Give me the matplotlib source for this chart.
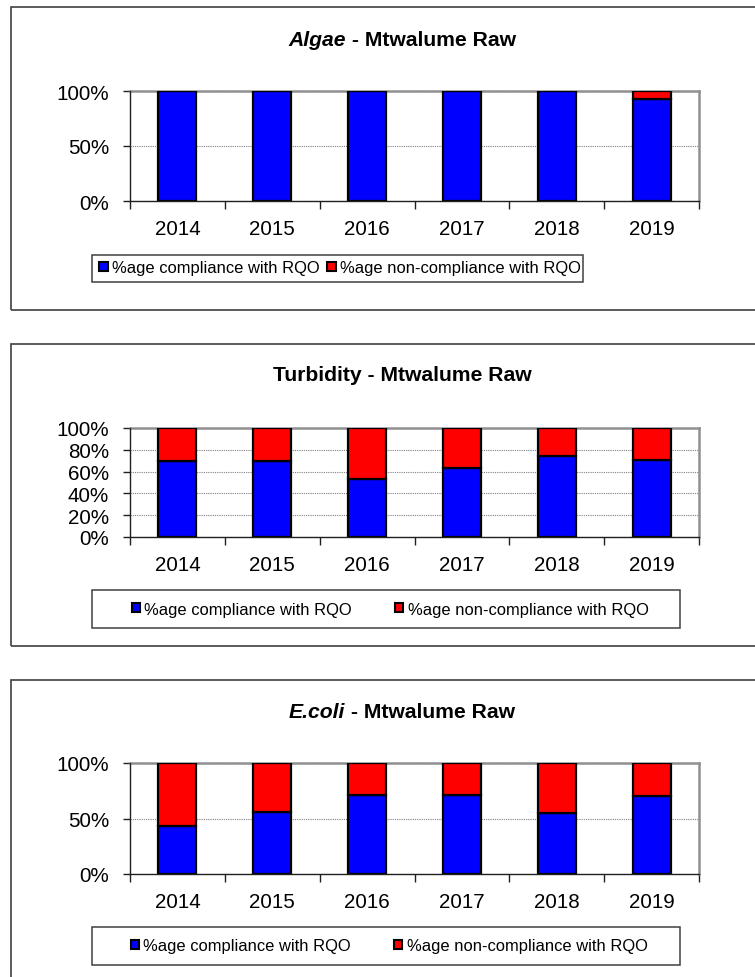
import matplotlib
matplotlib.use("Agg")
import matplotlib.pyplot as plt
import matplotlib.patches as mpatches
from matplotlib.ticker import FixedLocator, FuncFormatter

plt.rcParams["font.family"] = ["Liberation Sans", "DejaVu Sans"]

years = ["2014", "2015", "2016", "2017", "2018", "2019"]

algae_comp = [100, 100, 100, 100, 100, 93]
algae_non = [0, 0, 0, 0, 0, 7]

turb_comp = [70, 70, 53, 63, 74, 71]
turb_non = [30, 30, 47, 37, 26, 29]

ecoli_comp = [43, 56, 71, 71, 55, 70]
ecoli_non = [57, 44, 29, 29, 45, 30]

labels = ["%age compliance with RQO", "%age non-compliance with RQO"]
BLUE = "#0000ff"
RED = "#ff0000"

W, H = 755, 978
fig = plt.figure(figsize=(W / 100, H / 100), dpi=100)


def fx(px):
    return px / W


def fy(py):
    return 1 - py / H


def panel_box(top, bottom):
    fig.patches.append(mpatches.Rectangle(
        (fx(10.6), fy(bottom)), fx(770) - fx(10.6), fy(top) - fy(bottom),
        transform=fig.transFigure, fill=False, edgecolor="#404040", linewidth=1.2))


def draw_title(y, ital, rest, cx=402):
    r = fig.canvas.get_renderer()
    kw = dict(fontsize=15.2, fontweight="bold", va="center")
    if ital:
        t1 = fig.text(0, fy(y), ital, style="italic", **kw)
        t2 = fig.text(0, fy(y), rest, **kw)
        w1 = t1.get_window_extent(r).width
        w2 = t2.get_window_extent(r).width
        x0 = cx - (w1 + w2) / 2
        t1.set_x(fx(x0))
        t2.set_x(fx(x0 + w1))
    else:
        fig.text(fx(cx), fy(y), rest, ha="center", **kw)


def draw_axes(top, bottom, comp, non, yticks):
    ax = fig.add_axes([fx(130), fy(bottom), fx(699) - fx(130), fy(top) - fy(bottom)])
    x = range(len(years))
    ax.bar(x, comp, width=0.40, color=BLUE, edgecolor="black", linewidth=1.6, zorder=3)
    ax.bar(x, non, width=0.40, bottom=comp, color=RED, edgecolor="black", linewidth=1.6, zorder=3)
    ax.set_xlim(-0.5, len(years) - 0.5)
    ax.set_ylim(0, 100)
    ax.yaxis.set_major_locator(FixedLocator(yticks))
    ax.yaxis.set_major_formatter(FuncFormatter(lambda v, p: f"{int(v)}%"))
    ax.xaxis.set_major_locator(FixedLocator([i - 0.5 for i in range(len(years) + 1)]))
    ax.xaxis.set_major_formatter(FuncFormatter(lambda v, p: ""))
    ax.xaxis.set_minor_locator(FixedLocator(list(x)))
    ax.set_xticklabels(years, minor=True)
    ax.tick_params(axis="x", which="major", length=6, width=1, color="#202020", direction="out")
    ax.tick_params(axis="x", which="minor", length=0, pad=13, labelsize=14.9)
    ax.tick_params(axis="y", length=5, width=1, color="#202020", pad=10, labelsize=14.9)
    ax.grid(axis="y", color="#808080", linestyle=(0, (1, 1)), linewidth=0.8, zorder=0)
    for s in ("top", "right"):
        ax.spines[s].set_color("#909090")
        ax.spines[s].set_linewidth(1.8)
    for s in ("left", "bottom"):
        ax.spines[s].set_color("#202020")
        ax.spines[s].set_linewidth(1.0)
        ax.spines[s].set_zorder(4)
    return ax


def draw_legend(box, cx, cy, spacing):
    x0, y0, x1, y1 = box
    fig.patches.append(mpatches.Rectangle(
        (fx(x0), fy(y1)), fx(x1) - fx(x0), fy(y0) - fy(y1),
        transform=fig.transFigure, fill=False, edgecolor="#404040", linewidth=1.1))
    handles = [mpatches.Patch(facecolor=BLUE, edgecolor="black", linewidth=1.5),
               mpatches.Patch(facecolor=RED, edgecolor="black", linewidth=1.5)]
    fig.legend(handles, labels, loc="center", bbox_to_anchor=(fx(cx), fy(cy)),
               ncol=2, frameon=False, fontsize=11.9, handlelength=0.52,
               handleheight=0.52, handletextpad=0.25, columnspacing=spacing,
               borderpad=0, borderaxespad=0)


# Algae panel
panel_box(8, 311)
draw_title(41, "Algae", " - Mtwalume Raw")
draw_axes(92, 202, algae_comp, algae_non, [0, 50, 100])
draw_legend((91.5, 256, 583, 283), 340, 269, 0.45)

# Turbidity panel
panel_box(345, 647)
draw_title(376, None, "Turbidity - Mtwalume Raw")
draw_axes(429, 538, turb_comp, turb_non, [0, 20, 40, 60, 80, 100])
draw_legend((91.5, 591, 680, 629), 390, 610, 2.6)

# E.coli panel
panel_box(681, 990)
draw_title(712, "E.coli", " - Mtwalume Raw")
draw_axes(764, 875, ecoli_comp, ecoli_non, [0, 50, 100])
draw_legend((91.5, 928, 680, 966), 389, 947, 2.6)

fig.savefig("out.png", dpi=100)
